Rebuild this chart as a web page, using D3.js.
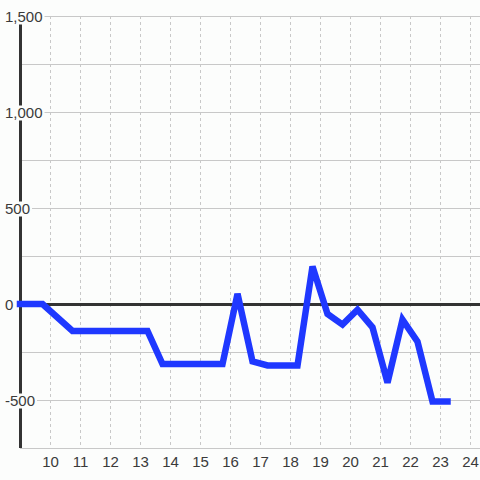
<!DOCTYPE html>
<html>
<head>
<meta charset="utf-8">
<script src="https://cdn.jsdelivr.net/npm/d3@7"></script>
<style>
html,body{margin:0;padding:0;background:#fcfdfc;}
svg{display:block;}
text{font-family:"Liberation Sans",Arial,sans-serif;font-size:15px;fill:#3a3a3a;}
</style>
</head>
<body>
<svg id="chart" width="480" height="480"></svg>
<script>
// data
const hours = [9, 9.75, 10.75, 13.25, 13.75, 15.75, 16.25, 16.75, 17.25, 18.25, 18.75, 19.25, 19.75, 20.25, 20.75, 21.25, 21.75, 22.25, 22.75, 23.25];
const values = [0, 0, -140, -140, -313, -313, 53, -299, -320, -320, 196, -52, -107, -30, -122, -410, -82, -196, -508, -508];
const xTicks = [10, 11, 12, 13, 14, 15, 16, 17, 18, 19, 20, 21, 22, 23, 24];
const yTicks = [-500, 0, 500, 1000, 1500];
const yGrid = [-750, -500, -250, 250, 500, 750, 1000, 1250, 1500];

const svg = d3.select("#chart");
const x = d3.scaleLinear().domain([9, 24.3333]).range([20, 480]);
const y = d3.scaleLinear().domain([-750, 1500]).range([448, 16]);

const fmt = d3.formatLocale({decimal: ".", thousands: ",", grouping: [3], currency: ["", ""], minus: "-"}).format(",d");

// horizontal grid
svg.append("g").selectAll("line").data(yGrid).join("line")
  .attr("x1", 20).attr("x2", 480)
  .attr("y1", d => Math.round(y(d)) + 0.5).attr("y2", d => Math.round(y(d)) + 0.5)
  .attr("stroke", "#c8c8c8").attr("stroke-width", 1.2);

// vertical dashed grid
svg.append("g").selectAll("line").data(xTicks).join("line")
  .attr("x1", d => Math.round(x(d)) + 0.5).attr("x2", d => Math.round(x(d)) + 0.5)
  .attr("y1", 16).attr("y2", 448)
  .attr("stroke", "#c8c8c8").attr("stroke-width", 1).attr("stroke-dasharray", "3,3");

// y axis line
svg.append("line").attr("x1", 20.5).attr("x2", 20.5).attr("y1", y(1500)).attr("y2", y(-750))
  .attr("stroke", "#333").attr("stroke-width", 3);

// zero line
svg.append("line").attr("x1", 20).attr("x2", 480).attr("y1", y(0) + 0.5).attr("y2", y(0) + 0.5)
  .attr("stroke", "#333").attr("stroke-width", 3);

// y labels with background boxes
const yAxis = svg.append("g").attr("transform", "translate(20,0)")
  .call(d3.axisLeft(y).tickValues(yTicks).tickFormat(fmt).tickSize(0));
yAxis.select(".domain").remove();
yAxis.selectAll(".tick text")
  .attr("x", -15).attr("dy", "0.35em").attr("text-anchor", "start")
  .style("font-family", '"Liberation Sans",Arial,sans-serif').style("font-size", "15px").attr("fill", "#3a3a3a");
yAxis.selectAll(".tick").each(function(d) {
  const t = d3.select(this).select("text");
  const bb = t.node().getBBox();
  d3.select(this).insert("rect", "text")
    .attr("x", bb.x - 2).attr("y", -7).attr("width", bb.width + 4).attr("height", 15)
    .attr("fill", "#fcfdfc");
});

// x labels
const xAxis = svg.append("g").attr("transform", "translate(0,448)")
  .call(d3.axisBottom(x).tickValues(xTicks).tickFormat(d3.format("d")).tickSize(0));
xAxis.select(".domain").remove();
xAxis.selectAll(".tick text").attr("y", 19).attr("dy", "0")
  .style("font-family", '"Liberation Sans",Arial,sans-serif').style("font-size", "15px").attr("fill", "#3a3a3a");

// line
const pts = hours.map((h, i) => [h, values[i]]);
svg.append("path").datum(pts)
  .attr("fill", "none").attr("stroke", "#1f38ff").attr("stroke-width", 6.5)
  .attr("stroke-linecap", "square").attr("stroke-linejoin", "miter")
  .attr("d", d3.line().x(d => x(d[0])).y(d => y(d[1])));
</script>
</body>
</html>
